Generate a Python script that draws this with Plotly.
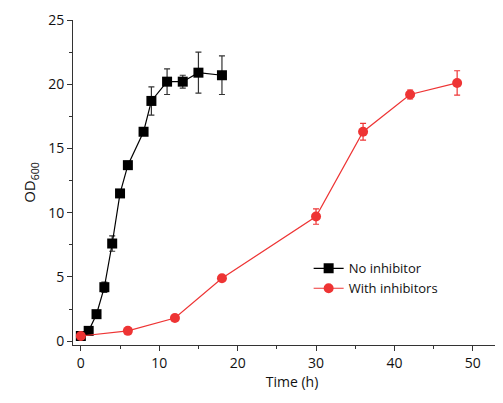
import plotly.graph_objects as go

t_no = [0, 1, 2, 3, 4, 5, 6, 8, 9, 11, 13, 15, 18]
od_no = [0.4, 0.8, 2.1, 4.2, 7.6, 11.5, 13.7, 16.3, 18.7, 20.2, 20.2, 20.9, 20.7]
err_no = [0.1, 0.1, 0.2, 0.4, 0.6, 0.2, 0.3, 0.2, 1.1, 1.0, 0.5, 1.6, 1.5]

t_with = [0, 6, 12, 18, 30, 36, 42, 48]
od_with = [0.4, 0.8, 1.8, 4.9, 9.7, 16.3, 19.2, 20.1]
err_with = [0.1, 0.1, 0.1, 0.2, 0.6, 0.65, 0.35, 0.95]

RED = "rgb(238,52,52)"
FONT = "Open Sans"

fig = go.Figure()
fig.add_trace(go.Scatter(
    x=t_no, y=od_no, name="No inhibitor", mode="lines+markers",
    line=dict(color="black", width=1.2),
    marker=dict(symbol="square", size=10, color="black"),
    error_y=dict(type="data", array=err_no, color="#333", thickness=1.2, width=3),
))
fig.add_trace(go.Scatter(
    x=t_with, y=od_with, name="With inhibitors", mode="lines+markers",
    line=dict(color=RED, width=1.2),
    marker=dict(symbol="circle", size=10, color=RED),
    error_y=dict(type="data", array=err_with, color=RED, thickness=1.2, width=3),
))

fig.update_layout(
    width=503, height=403,
    margin=dict(l=65, r=0, t=12, b=66),
    plot_bgcolor="white", paper_bgcolor="white",
    font=dict(family=FONT, size=14, color="#111"),
    showlegend=True,
    legend=dict(x=0.538, y=0.205, xanchor="left", yanchor="middle",
                bgcolor="rgba(0,0,0,0)", font=dict(size=13, family=FONT),
                itemwidth=30, tracegroupgap=0),
    xaxis=dict(
        range=[-1, 54.87], showgrid=False, zeroline=False,
        showline=True, linecolor="#333", linewidth=1,
        ticks="outside", ticklen=5, tickcolor="#333", dtick=10, tick0=0,
        minor=dict(ticks="outside", ticklen=3, dtick=5, tick0=0, tickcolor="#333"),
        title=dict(text="Time (h)", font=dict(size=14), standoff=6),
    ),
    yaxis=dict(
        range=[-0.3, 25], showgrid=False, zeroline=False,
        showline=True, linecolor="#333", linewidth=1,
        ticks="outside", ticklen=5, tickcolor="#333", dtick=5, tick0=0,
        minor=dict(ticks="outside", ticklen=3, dtick=2.5, tick0=0, tickcolor="#333"),
        title=dict(text="OD<sub>600</sub>", font=dict(size=15), standoff=8),
    ),
)

fig.write_html("out.html")
